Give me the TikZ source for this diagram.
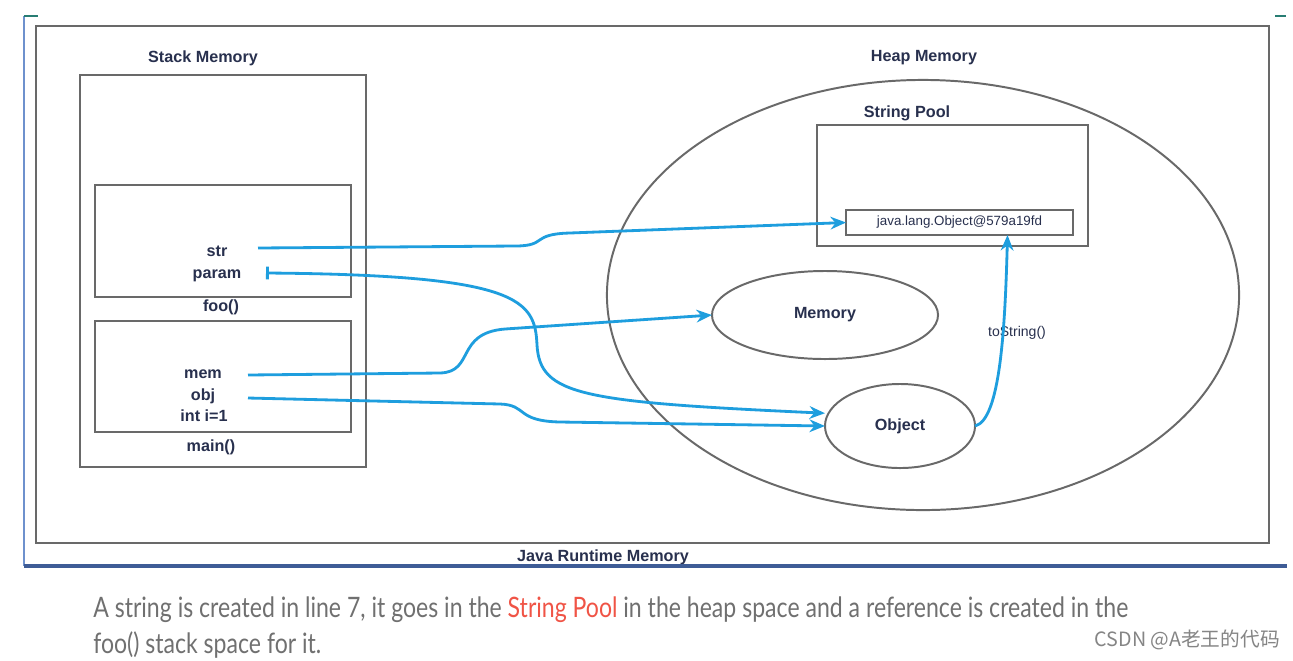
\documentclass[tikz,border=0pt]{standalone}
\usepackage{fontspec}
\setmainfont{Liberation Sans}
\newfontfamily\capfont{Lato}
\newfontfamily\cjkfont{Noto Sans CJK SC}
\usetikzlibrary{arrows.meta,shapes.geometric}
\definecolor{linegray}{RGB}{105,105,105}
\definecolor{labelnavy}{RGB}{40,48,78}
\definecolor{arrowblue}{RGB}{30,158,222}
\definecolor{framblue}{RGB}{110,145,205}
\definecolor{barblue}{RGB}{62,92,150}
\definecolor{tickteal}{RGB}{40,125,115}
\definecolor{captiongray}{RGB}{112,112,112}
\definecolor{poolred}{RGB}{240,84,70}

\tikzset{
  box/.style={draw=linegray, line width=1.4pt, inner sep=0pt, outer sep=0pt},
  oval/.style={box, ellipse},
  lbl/.style={font=\bfseries\fontsize{11.5}{13}\selectfont, text=labelnavy},
  ref/.style={draw=arrowblue, line width=2pt, -{Stealth[length=11pt,width=9pt]}},
}

\begin{document}
\begin{tikzpicture}[x=0.025cm,y=-0.025cm]
\useasboundingbox (0,0) rectangle (1293,660);
\clip (0,0) rectangle (1293,660);
\fill[white] (0,0) rectangle (1293,660);

% runtime frame
\node[box, minimum width=30.825cm, minimum height=12.925cm] (runtime) at (652.5,284.5) {};
\node[lbl] (rtlabel) at (603,557) {Java Runtime Memory};
\draw[framblue, line width=1.2pt] (24,16) -- (24,566);
\draw[barblue, line width=3.5pt] (24,566) -- (1287,566);
\draw[tickteal, line width=2pt] (24,16) -- (38,16);
\draw[tickteal, line width=2pt] (1275,16) -- (1286,16);

% stack side
\node[lbl] (stacklabel) at (203,58) {Stack Memory};
\node[box, minimum width=7.15cm, minimum height=9.8cm] (stack) at (223,271) {};
\node[box, minimum width=6.4cm, minimum height=2.8cm] (foo) at (223,241) {};
\node[box, minimum width=6.4cm, minimum height=2.775cm] (main) at (223,376.5) {};
\node[lbl] (foolabel) at (221,307) {foo()};
\node[lbl] (mainlabel) at (211,447) {main()};
\node[lbl] (str) at (217,251) {str};
\node[lbl] (param) at (217,276) {param};
\node[lbl] (mem) at (203,374) {mem};
\node[lbl] (obj) at (203,396) {obj};
\node[lbl] (inti) at (204,416) {int i=1};

% heap side
\node[lbl] (heaplabel) at (924,58) {Heap Memory};
\node[oval, minimum width=15.8cm, minimum height=10.75cm] (heap) at (923,295) {};
\node[lbl] (poollabel) at (907,113) {String Pool};
\node[box, minimum width=6.775cm, minimum height=3.025cm] (pool) at (952.5,185.5) {};
\node[box, line width=1.2pt, minimum width=5.675cm, minimum height=0.625cm,
      font=\fontsize{9.5}{11}\selectfont, text=labelnavy] (strobj) at (959.5,222.5) {java.lang.Object@579a19fd};
\node[oval, lbl, minimum width=5.65cm, minimum height=2.2cm] (memory) at (825,315) {Memory};
\node[oval, lbl, minimum width=3.75cm, minimum height=2.1cm] (object) at (900,426) {Object};
\node[text=labelnavy, font=\fontsize{10}{12}\selectfont] (tostr) at (1017,333) {toString()};

% references
\coordinate (strref) at (258,248);
\coordinate (paramref) at (266,273);
\coordinate (memref) at (248,375);
\coordinate (objref) at (248,398);
\draw[ref] (strref) -- (515,246) .. controls (548,246) and (530,234) .. (570,233) -- (strobj.west);
\draw[ref, {Bar[width=9pt]}-{Stealth[length=11pt,width=9pt]}] (paramref) .. controls (520,275) and (535,300) .. (537,345) .. controls (540,395) and (580,402) .. ([yshift=0.32cm]object.west);
\draw[ref] (memref) -- (440,373) .. controls (475,372) and (455,333) .. (505,329) -- (memory.west);
\draw[ref] (objref) -- (500,404) .. controls (528,405) and (515,421) .. (560,422) -- (object.west);
\draw[ref] (object.east) .. controls (1000,420) and (1005,330) .. ([xshift=1.2cm]strobj.south);

% caption
\node[anchor=base west, inner sep=0pt, text=captiongray, font=\capfont\fontsize{20}{24}\selectfont] (cap1) at (93,617)
  {\scalebox{0.82}[1]{A string is created in line 7, it goes in the \textcolor{poolred}{String Pool} in the heap space and a reference is created in the}};
\node[anchor=base west, inner sep=0pt, text=captiongray, font=\capfont\fontsize{20}{24}\selectfont] (cap2) at (93,653)
  {\scalebox{0.82}[1]{foo() stack space for it.}};
\node[anchor=base east, inner sep=0pt, text=captiongray!85, font=\cjkfont\fontsize{14}{16}\selectfont] (mark) at (1280,646) {CSDN @A老王的代码};
\end{tikzpicture}
\end{document}
